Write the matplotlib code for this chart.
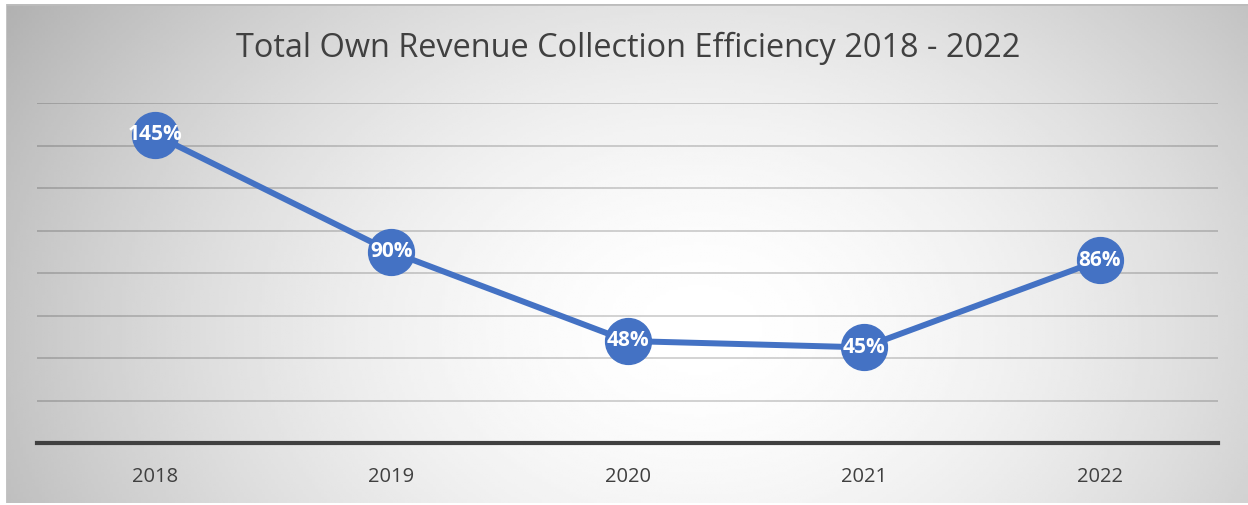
import numpy as np
import matplotlib.pyplot as plt

# Données
annees = ['2018', '2019', '2020', '2021', '2022']
efficacite = [145, 90, 48, 45, 86]
etiquettes = ['145%', '90%', '48%', '45%', '86%']
titre = 'Total Own Revenue Collection Efficiency 2018 - 2022'

W, H = 1248, 505
fig = plt.figure(figsize=(W / 100, H / 100), dpi=100)
fig.patch.set_facecolor('white')

# fond en dégradé radial (blanc au centre, gris aux bords)
ax_bg = fig.add_axes([6 / W, 2 / H, 1242 / W, 499 / H])
xx, yy = np.meshgrid(np.linspace(6, 1248, 400), np.linspace(4, 503, 200))
t = np.sqrt(((xx - 700) / 660) ** 2 + ((yy - 330) / 480) ** 2)
gris = np.clip(1 - 0.21 * np.clip(t, 0, 1.3) ** 1.7, 0, 1)
ax_bg.imshow(gris, cmap='gray', vmin=0, vmax=1, aspect='auto',
             extent=[0, 1, 0, 1], origin='upper')
ax_bg.axhline(1, color='#bcbcbc', lw=2)
ax_bg.axvline(0, color='#c4c4c4', lw=1.5)
ax_bg.set_xlim(0, 1)
ax_bg.set_ylim(0, 1)
ax_bg.axis('off')

# zone de tracé
ax = fig.add_axes([37 / W, 62 / H, 1181 / W, 340 / H])
ax.patch.set_alpha(0)
x = np.arange(len(annees))
ax.set_xlim(-0.5, 4.5)
ax.set_ylim(0, 160)
for g in range(20, 161, 20):
    ax.axhline(g, color='black', alpha=0.2, lw=1.2, zorder=1)
ax.axhline(0, color='#404040', lw=3, zorder=2, clip_on=False)

ax.plot(x, efficacite, color='#4472C4', lw=4.3, marker='o', markersize=33,
        solid_capstyle='round', zorder=3)
for xi, v, lab in zip(x, efficacite, etiquettes):
    ax.text(xi, v, lab, ha='center', va='center', color='white',
            fontsize=15, fontweight='bold', family='Open Sans', zorder=4)

ax.set_xticks(x)
ax.set_xticklabels(annees, family='Open Sans', fontsize=14.5, color='#404040')
ax.tick_params(axis='x', length=0, pad=17)
ax.set_yticks([])
for s in ax.spines.values():
    s.set_visible(False)

# titre, ajusté à la largeur voulue
txt = fig.text(628 / W, 1 - 48 / H, titre, ha='center', va='center',
               family='Open Sans', fontsize=24, color='#404040')
fig.canvas.draw()
largeur = txt.get_window_extent().width
txt.set_fontsize(24 * 789 / largeur)

fig.savefig('out.png', dpi=100)
